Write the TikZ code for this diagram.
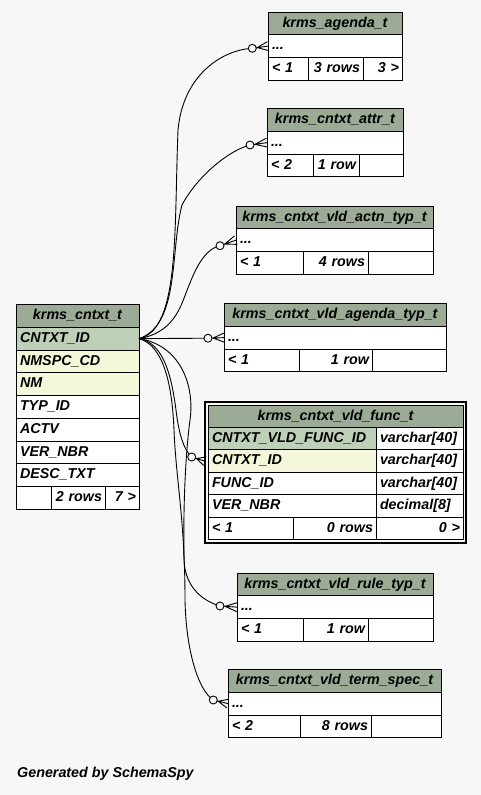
\documentclass[tikz,border=0pt]{standalone}
\usepackage{fontspec}
\setmainfont{Liberation Sans}
\usetikzlibrary{calc,fit,positioning}

\definecolor{bgcol}{HTML}{F7F7F7}
\definecolor{headcol}{HTML}{9BAB96}
\definecolor{pkcol}{HTML}{BED1B8}
\definecolor{idxcol}{HTML}{F4F7DA}

\tikzset{
  cell/.style={draw, line width=1pt, fill=white, anchor=north west, outer sep=0pt,
    inner xsep=4pt, inner ysep=0pt, minimum height=22.75pt,
    text height=10.4pt, text depth=2.9pt, align=left},
  headcell/.style={cell, fill=headcol, align=center},
  numcell/.style={cell, inner xsep=3pt, align=right},
  fk/.style={line width=0.9pt},
}

% open circle and crow's foot at the child table
\newcommand\crowfoot[2]{%
  \draw[fk] (#1) -- (#2)
    ($(#1)!5pt!(#2)$) -- ($(#2)!4.5pt!90:(#1)$)
    ($(#1)!5pt!(#2)$) -- ($(#2)!4.5pt!-90:(#1)$);
  \draw[fk, fill=bgcol] (#1) circle[radius=4pt];}

\begin{document}
\begin{tikzpicture}[x=1pt, y=-1pt, font=\fontsize{14.3}{16}\selectfont\bfseries\itshape]
  \useasboundingbox[fill=bgcol] (0,0) rectangle (481,795);

  % krms_cntxt_t
  \node[headcell, minimum width=123pt, text width=115pt] (ctx_hd) at (16,304.5) {krms\_cntxt\_t};
  \foreach \n/\lab/\col [count=\i] in {id/CNTXT\_ID/pkcol, nmspc/NMSPC\_CD/idxcol, nm/NM/idxcol,
      typ/TYP\_ID/white, actv/ACTV/white, ver/VER\_NBR/white, desc/DESC\_TXT/white}
    \node[cell, fill=\col, minimum width=123pt, text width=115pt] (ctx_\n) at (16,304.5+\i*22.75) {\lab};
  \node[cell, minimum width=35pt, text width=27pt] (ctx_f1) at (16,486.5) {};
  \node[numcell, minimum width=54pt, text width=48pt] (ctx_f2) at (51,486.5) {2~rows};
  \node[numcell, minimum width=34pt, text width=28pt] (ctx_f3) at (105,486.5) {7~>};

  % krms_agenda_t
  \node[headcell, minimum width=134pt, text width=126pt] (agenda_hd) at (268,12) {krms\_agenda\_t};
  \node[cell, minimum width=134pt, text width=126pt] (agenda_row) at (268,34.75) {...};
  \node[cell, minimum width=40pt, text width=32pt] (agenda_f1) at (268,57.5) {<~1};
  \node[numcell, minimum width=55pt, text width=49pt] (agenda_f2) at (308,57.5) {3~rows};
  \node[numcell, minimum width=39pt, text width=33pt] (agenda_f3) at (363,57.5) {3~>};

  % krms_cntxt_attr_t
  \node[headcell, minimum width=136pt, text width=128pt] (attr_hd) at (267,108.5) {krms\_cntxt\_attr\_t};
  \node[cell, minimum width=136pt, text width=128pt] (attr_row) at (267,131.25) {...};
  \node[cell, minimum width=46pt, text width=38pt] (attr_f1) at (267,154) {<~2};
  \node[numcell, minimum width=46pt, text width=40pt] (attr_f2) at (313,154) {1~row};
  \node[numcell, minimum width=44pt, text width=38pt] (attr_f3) at (359,154) {};

  % krms_cntxt_vld_actn_typ_t
  \node[headcell, minimum width=197pt, text width=189pt] (actn_hd) at (236,206) {krms\_cntxt\_vld\_actn\_typ\_t};
  \node[cell, minimum width=197pt, text width=189pt] (actn_row) at (236,228.75) {...};
  \node[cell, minimum width=67pt, text width=59pt] (actn_f1) at (236,251.5) {<~1};
  \node[numcell, minimum width=65pt, text width=59pt] (actn_f2) at (303,251.5) {4~rows};
  \node[numcell, minimum width=65pt, text width=59pt] (actn_f3) at (368,251.5) {};

  % krms_cntxt_vld_agenda_typ_t
  \node[headcell, minimum width=222pt, text width=214pt] (agtyp_hd) at (224,303.5) {krms\_cntxt\_vld\_agenda\_typ\_t};
  \node[cell, minimum width=222pt, text width=214pt] (agtyp_row) at (224,326.25) {...};
  \node[cell, minimum width=75pt, text width=67pt] (agtyp_f1) at (224,349) {<~1};
  \node[numcell, minimum width=73pt, text width=67pt] (agtyp_f2) at (299,349) {1~row};
  \node[numcell, minimum width=74pt, text width=68pt] (agtyp_f3) at (372,349) {};

  % krms_cntxt_vld_func_t
  \begin{scope}[every node/.append style={minimum height=22.4pt}]
    \node[headcell, minimum width=255pt, text width=247pt] (func_hd) at (208,405) {krms\_cntxt\_vld\_func\_t};
    \foreach \n/\lab/\typ/\col [count=\i] in {pk/CNTXT\_VLD\_FUNC\_ID/varchar[40]/pkcol,
        cid/CNTXT\_ID/varchar[40]/idxcol, fid/FUNC\_ID/varchar[40]/white, ver/VER\_NBR/decimal[8]/white}
    {
      \node[cell, fill=\col, minimum width=168pt, text width=160pt] (func_\n) at (208,405+\i*22.4) {\lab};
      \node[cell, minimum width=87pt, text width=79pt] (func_\n_t) at (376,405+\i*22.4) {\typ};
    }
    \node[cell, minimum width=85pt, text width=77pt] (func_f1) at (208,517) {<~1};
    \node[numcell, minimum width=83pt, text width=77pt] (func_f2) at (293,517) {0~rows};
    \node[numcell, minimum width=87pt, text width=81pt] (func_f3) at (376,517) {0~>};
  \end{scope}
  \node[draw, line width=1.5pt, fit=(func_hd)(func_f1)(func_f3), inner sep=3pt, outer sep=0pt] (func_frame) {};

  % krms_cntxt_vld_rule_typ_t
  \node[headcell, minimum width=196pt, text width=188pt] (rule_hd) at (237,573) {krms\_cntxt\_vld\_rule\_typ\_t};
  \node[cell, minimum width=196pt, text width=188pt] (rule_row) at (237,595.75) {...};
  \node[cell, minimum width=66pt, text width=58pt] (rule_f1) at (237,618.5) {<~1};
  \node[numcell, minimum width=65pt, text width=59pt] (rule_f2) at (303,618.5) {1~row};
  \node[numcell, minimum width=65pt, text width=59pt] (rule_f3) at (368,618.5) {};

  % krms_cntxt_vld_term_spec_t
  \node[headcell, minimum width=213pt, text width=205pt] (term_hd) at (228,669.5) {krms\_cntxt\_vld\_term\_spec\_t};
  \node[cell, minimum width=213pt, text width=205pt] (term_row) at (228,692.25) {...};
  \node[cell, minimum width=72pt, text width=64pt] (term_f1) at (228,715) {<~2};
  \node[numcell, minimum width=71pt, text width=65pt] (term_f2) at (300,715) {8~rows};
  \node[numcell, minimum width=70pt, text width=64pt] (term_f3) at (371,715) {};

  % foreign keys
  \coordinate (agenda_o) at (252.3,48.3);
  \coordinate (attr_o) at (250,145);
  \coordinate (actn_o) at (220,245.7);
  \coordinate (agtyp_o) at (208,338.2);
  \coordinate (func_o) at (191.7,457);
  \coordinate (rule_o) at (220,606);
  \coordinate (term_o) at (213.3,700);
  \draw[fk] (ctx_id.east) .. controls (180,330) and (174,230) .. (178,130)
    .. controls (183,75) and (222,50) .. (agenda_o);
  \draw[fk] (ctx_id.east) .. controls (180,325) and (170,250) .. (182,205)
    .. controls (198,175) and (230,150) .. (attr_o);
  \draw[fk] (ctx_id.east) .. controls (178,332) and (182,300) .. (190,283)
    .. controls (198,262) and (208,248) .. (actn_o);
  \draw[fk] (ctx_id.east) -- (agtyp_o);
  \draw[fk] (ctx_id.east) .. controls (165,343) and (172,380) .. (176,410)
    .. controls (179,435) and (184,450) .. (func_o);
  \draw[fk] (ctx_id.east) .. controls (180,345) and (195,385) .. (190,420)
    .. controls (186,450) and (183,500) .. (184,560) .. controls (185,585) and (200,600) .. (rule_o);
  \draw[fk] (ctx_id.east) .. controls (162,345) and (172,380) .. (174,430)
    .. controls (176,480) and (185,520) .. (185,600) .. controls (186,650) and (198,690) .. (term_o);
  \crowfoot{agenda_o}{agenda_row.west}
  \crowfoot{attr_o}{attr_row.west}
  \crowfoot{actn_o}{actn_row.west}
  \crowfoot{agtyp_o}{agtyp_row.west}
  \crowfoot{func_o}{func_frame.west |- func_cid.west}
  \crowfoot{rule_o}{rule_row.west}
  \crowfoot{term_o}{term_row.west}

  \node[anchor=west, inner sep=0pt] (credit) at (17,774) {Generated by SchemaSpy};
\end{tikzpicture}
\end{document}
